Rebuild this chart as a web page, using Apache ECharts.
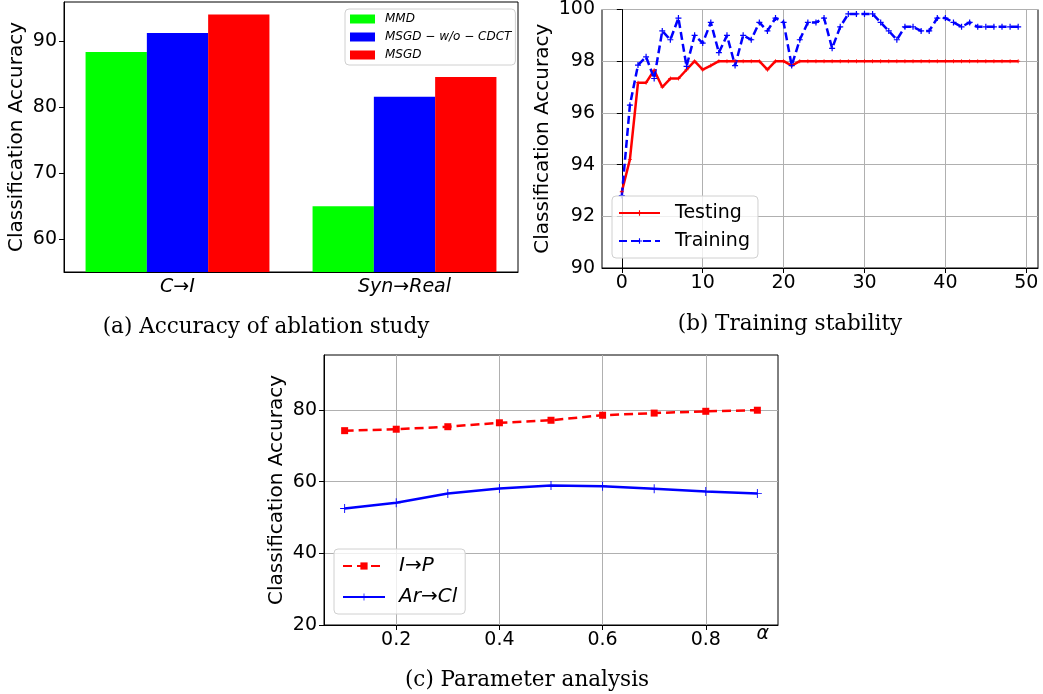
<!DOCTYPE html>
<html>
<head>
<meta charset="utf-8">
<script src="https://cdn.jsdelivr.net/npm/echarts@6/dist/echarts.min.js"></script>
<style>
  html, body { margin: 0; padding: 0; background: #fff; }
  #chart { width: 1043px; height: 694px; }
</style>
</head>
<body>
<div id="chart"></div>
<script>
// (a) ablation study
const groupNames = ['C→I', 'Syn→Real'];
const mmd = [88.4, 65.0];
const msgdWoCdct = [91.3, 81.6];
const msgd = [94.1, 84.6];

// (b) training stability, one value per epoch (0..49)
const testing = [
  92.95, 94.2, 97.17, 97.17, 97.65, 97.0, 97.33, 97.33, 97.67, 98.0,
  97.67, 97.83, 98.0, 98.0, 98.0, 98.0, 98.0, 98.0, 97.67, 98.0,
  98.0, 97.83, 98.0, 98.0, 98.0, 98.0, 98.0, 98.0, 98.0, 98.0,
  98.0, 98.0, 98.0, 98.0, 98.0, 98.0, 98.0, 98.0, 98.0, 98.0,
  98.0, 98.0, 98.0, 98.0, 98.0, 98.0, 98.0, 98.0, 98.0, 98.0
];
const training = [
  92.8, 96.3, 97.85, 98.17, 97.33, 99.17, 98.83, 99.67, 97.8, 99.0,
  98.7, 99.5, 98.33, 99.0, 97.83, 99.0, 98.83, 99.5, 99.17, 99.67,
  99.5, 97.83, 98.83, 99.5, 99.5, 99.67, 98.5, 99.33, 99.83, 99.83,
  99.83, 99.83, 99.5, 99.17, 98.83, 99.33, 99.33, 99.17, 99.17, 99.67,
  99.67, 99.5, 99.33, 99.5, 99.33, 99.33, 99.33, 99.33, 99.33, 99.33
];
const epochTicks = [0, 10, 20, 30, 40, 50];

// (c) parameter analysis
const alphas = [0.1, 0.2, 0.3, 0.4, 0.5, 0.6, 0.7, 0.8, 0.9];
const iToP = [74.2, 74.6, 75.3, 76.4, 77.1, 78.5, 79.1, 79.6, 79.9];
const arToCl = [52.5, 54.1, 56.7, 58.1, 58.9, 58.7, 58.0, 57.2, 56.7];
const alphaTicks = [0.2, 0.4, 0.6, 0.8];

const sans = '"DejaVu Sans", sans-serif';
const plus = 'path://M4,0H6V4H10V6H6V10H4V6H0V4H4Z';
const thinPlus = 'path://M4.5,0H5.5V4.5H10V5.5H5.5V10H4.5V5.5H0V4.5H4.5Z';

const tickLabel = { color: '#000', fontSize: 19, fontFamily: sans };
const gridLine = { show: true, lineStyle: { color: '#b0b0b0', width: 1 } };
const axisName = { color: '#000', fontSize: 20, fontFamily: sans };
const legendBox = {
  orient: 'vertical',
  backgroundColor: 'rgba(255,255,255,0.8)',
  borderColor: '#d0d0d0',
  borderWidth: 1,
  borderRadius: 4
};
const caption = { font: '21.5px "DejaVu Serif"', fill: '#000', align: 'center', verticalAlign: 'middle', textAlign: 'center', textVerticalAlign: 'middle' };

const chart = echarts.init(document.getElementById('chart'));
chart.setOption({
  animation: false,
  backgroundColor: '#fff',
  grid: [
    { left: 64, top: 2, width: 454, height: 270, show: true, borderColor: '#000', borderWidth: 1, backgroundColor: 'transparent' },
    { left: 602, top: 9, width: 436, height: 259, show: true, borderColor: '#000', borderWidth: 1, backgroundColor: 'transparent' },
    { left: 324, top: 355, width: 454, height: 270, show: true, borderColor: '#000', borderWidth: 1, backgroundColor: 'transparent' }
  ],
  xAxis: [
    {
      gridIndex: 0, type: 'category', data: groupNames,
      axisLine: { lineStyle: { color: '#000' } },
      axisTick: { alignWithLabel: true, length: 5, lineStyle: { color: '#000' } },
      axisLabel: Object.assign({}, tickLabel, { fontStyle: 'italic', margin: 6 })
    },
    {
      gridIndex: 1, type: 'value', min: -2.45, max: 51.45,
      axisLine: { lineStyle: { color: '#000' } },
      axisTick: { length: 5, lineStyle: { color: '#000' }, customValues: epochTicks },
      axisLabel: Object.assign({}, tickLabel, { margin: 6, customValues: epochTicks }),
      splitLine: gridLine
    },
    {
      gridIndex: 2, type: 'value', min: 0.06, max: 0.94,
      name: 'α', nameLocation: 'end', nameGap: -9,
      nameTextStyle: { color: '#000', fontSize: 19, fontStyle: 'italic', fontFamily: sans, align: 'right', verticalAlign: 'top' },
      axisLine: { lineStyle: { color: '#000' } },
      axisTick: { length: 5, lineStyle: { color: '#000' }, customValues: alphaTicks },
      axisLabel: Object.assign({}, tickLabel, { margin: 6, customValues: alphaTicks, formatter: v => v.toFixed(1) }),
      splitLine: gridLine
    }
  ],
  yAxis: [
    {
      gridIndex: 0, type: 'value', min: 55, max: 96,
      name: 'Classification Accuracy', nameLocation: 'middle', nameGap: 37, nameTextStyle: axisName,
      axisLine: { show: true, lineStyle: { color: '#000' } },
      axisTick: { show: true, length: 5, lineStyle: { color: '#000' }, customValues: [60, 70, 80, 90] },
      axisLabel: Object.assign({}, tickLabel, { margin: 7, customValues: [60, 70, 80, 90] }),
      splitLine: { show: false }
    },
    {
      gridIndex: 1, type: 'value', min: 90, max: 100, interval: 2,
      name: 'Classification Accuracy', nameLocation: 'middle', nameGap: 49, nameTextStyle: axisName,
      axisLine: { show: true, lineStyle: { color: '#000' } },
      axisTick: { show: true, length: 5, lineStyle: { color: '#000' } },
      axisLabel: Object.assign({}, tickLabel, { margin: 7 }),
      splitLine: gridLine
    },
    {
      gridIndex: 2, type: 'value', min: 20, max: 95.3,
      name: 'Classification Accuracy', nameLocation: 'middle', nameGap: 37, nameTextStyle: axisName,
      axisLine: { show: true, lineStyle: { color: '#000' } },
      axisTick: { show: true, length: 5, lineStyle: { color: '#000' }, customValues: [20, 40, 60, 80] },
      axisLabel: Object.assign({}, tickLabel, { margin: 7, customValues: [20, 40, 60, 80] }),
      splitLine: gridLine
    }
  ],
  legend: [
    Object.assign({}, legendBox, {
      data: ['MMD', 'MSGD − w/o − CDCT', 'MSGD'],
      left: 345, top: 9, padding: [3, 4, 3, 5],
      itemWidth: 25, itemHeight: 9, itemGap: 4, icon: 'rect',
      textStyle: { color: '#000', fontSize: 12, fontStyle: 'italic', fontFamily: sans, lineHeight: 14, padding: [0, 0, 0, 5] }
    }),
    Object.assign({}, legendBox, {
      data: ['Testing', 'Training'],
      left: 612, top: 196, padding: [6, 8, 6, 6],
      itemWidth: 41, itemHeight: 7, itemGap: 6,
      textStyle: { color: '#000', fontSize: 19, fontFamily: sans, lineHeight: 22, padding: [0, 0, 0, 10] }
    }),
    Object.assign({}, legendBox, {
      data: ['I→P', 'Ar→Cl'],
      left: 334, top: 549, padding: [5, 8, 5, 8],
      itemWidth: 42, itemHeight: 9, itemGap: 7,
      textStyle: { color: '#000', fontSize: 20, fontStyle: 'italic', fontFamily: sans, lineHeight: 24, padding: [0, 0, 0, 9] }
    })
  ],
  series: [
    { name: 'MMD', type: 'bar', xAxisIndex: 0, yAxisIndex: 0, data: mmd, itemStyle: { color: '#00ff00' }, barGap: '0%', barCategoryGap: '19%' },
    { name: 'MSGD − w/o − CDCT', type: 'bar', xAxisIndex: 0, yAxisIndex: 0, data: msgdWoCdct, itemStyle: { color: '#0000ff' }, barGap: '0%', barCategoryGap: '19%' },
    { name: 'MSGD', type: 'bar', xAxisIndex: 0, yAxisIndex: 0, data: msgd, itemStyle: { color: '#ff0000' }, barGap: '0%', barCategoryGap: '19%' },
    {
      name: 'Testing', type: 'line', xAxisIndex: 1, yAxisIndex: 1,
      data: testing.map((v, i) => [i, v]),
      symbol: plus, symbolSize: 4, color: '#ff0000',
      itemStyle: { color: '#ff0000' }, lineStyle: { color: '#ff0000', width: 2.5 }
    },
    {
      name: 'Training', type: 'line', xAxisIndex: 1, yAxisIndex: 1,
      data: training.map((v, i) => [i, v]),
      symbol: plus, symbolSize: 6, color: '#0000ff',
      itemStyle: { color: '#0000ff' }, lineStyle: { color: '#0000ff', width: 2.5, type: [8, 4] }
    },
    {
      name: 'I→P', type: 'line', xAxisIndex: 2, yAxisIndex: 2,
      data: alphas.map((a, i) => [a, iToP[i]]),
      symbol: 'rect', symbolSize: 7, color: '#ff0000',
      itemStyle: { color: '#ff0000' }, lineStyle: { color: '#ff0000', width: 2.5, type: [9, 5] }
    },
    {
      name: 'Ar→Cl', type: 'line', xAxisIndex: 2, yAxisIndex: 2,
      data: alphas.map((a, i) => [a, arToCl[i]]),
      symbol: thinPlus, symbolSize: 9, color: '#0000ff',
      itemStyle: { color: '#0000ff' }, lineStyle: { color: '#0000ff', width: 2.5 }
    }
  ],
  graphic: [
    { type: 'text', x: 266, y: 327, style: Object.assign({ text: '(a) Accuracy of ablation study' }, caption) },
    { type: 'text', x: 790, y: 324, style: Object.assign({ text: '(b) Training stability' }, caption) },
    { type: 'text', x: 527, y: 680, style: Object.assign({ text: '(c) Parameter analysis' }, caption) }
  ]
});
</script>
</body>
</html>
